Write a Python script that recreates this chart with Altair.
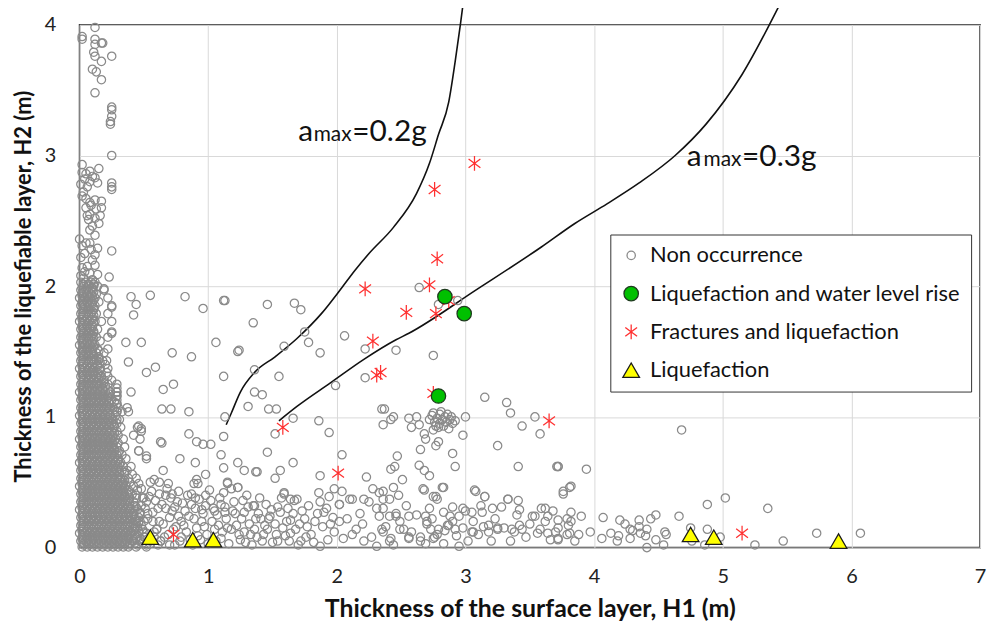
import altair as alt
import pandas as pd

# ---------------- data ----------------
TYPES = ["Non occurrence", "Liquefaction and water level rise",
         "Fractures and liquefaction", "Liquefaction"]

x_ticks = [0, 1, 2, 3, 4, 5, 6, 7]
y_ticks = [0, 1, 2, 3, 4]

# Liquefaction and water level rise (green circles)
water_rise_x = [2.84, 2.99, 2.79]
water_rise_y = [1.92, 1.79, 1.16]

# Fractures and liquefaction (red asterisks)
fractures_x = [3.07, 2.76, 2.78, 2.22, 2.72, 2.54, 2.77, 2.87, 2.28, 2.31, 2.34, 2.75,
               1.58, 2.01, 3.65, 5.15, 0.73]
fractures_y = [2.94, 2.74, 2.21, 1.98, 2.01, 1.80, 1.79, 1.89, 1.58, 1.32, 1.34, 1.18,
               0.92, 0.57, 0.97, 0.11, 0.10]

# Liquefaction (yellow triangles)
liquefaction_x = [0.55, 0.88, 1.04, 4.75, 4.93, 5.90]
liquefaction_y = [0.08, 0.06, 0.06, 0.10, 0.08, 0.05]

# Boundary curves (they run a little past the top of the frame, as in the original)
curve_02_x = [1.14, 1.18, 1.25, 1.36, 1.52, 1.69, 1.88, 2.04, 2.14, 2.25, 2.44, 2.62, 2.72, 2.79, 2.87, 2.92, 2.96, 2.98]
curve_02_y = [0.94, 1.03, 1.19, 1.34, 1.46, 1.60, 1.79, 1.99, 2.12, 2.25, 2.45, 2.71, 2.94, 3.16, 3.41, 3.72, 4.00, 4.15]
curve_03_x = [1.55, 1.69, 1.95, 2.21, 2.46, 2.56, 3.08, 3.59, 3.85, 4.10, 4.35, 4.63, 4.87, 5.15, 5.44]
curve_03_y = [0.97, 1.08, 1.26, 1.44, 1.59, 1.64, 1.97, 2.30, 2.48, 2.63, 2.79, 3.00, 3.24, 3.62, 4.15]

# Non occurrence: sparse points near the left edge, H2 > 2 m
non_occ_upper = [
    (0.12, 3.98), (0.02, 3.91), (0.02, 3.89), (0.12, 3.89), (0.17, 3.86), (0.18, 3.86),
    (0.12, 3.85), (0.11, 3.79), (0.12, 3.76), (0.25, 3.76), (0.17, 3.72), (0.10, 3.66),
    (0.13, 3.64), (0.17, 3.58), (0.12, 3.48), (0.25, 3.37), (0.25, 3.35), (0.25, 3.30),
    (0.24, 3.26), (0.24, 3.24), (0.25, 3.00), (0.02, 2.93), (0.15, 2.90), (0.02, 2.87),
    (0.05, 2.86), (0.08, 2.88), (0.10, 2.84), (0.04, 2.82), (0.12, 2.83), (0.08, 2.80),
    (0.01, 2.78), (0.14, 2.79), (0.25, 2.79), (0.25, 2.76), (0.25, 2.74), (0.06, 2.76),
    (0.03, 2.72), (0.02, 2.69), (0.05, 2.67), (0.12, 2.66), (0.08, 2.64), (0.17, 2.65),
    (0.09, 2.62), (0.17, 2.60), (0.05, 2.60), (0.13, 2.59), (0.06, 2.54), (0.08, 2.55),
    (0.16, 2.54), (0.07, 2.51), (0.12, 2.52), (0.15, 2.48), (0.10, 2.46), (0.08, 2.43),
    (0.12, 2.39), (0.00, 2.36), (0.05, 2.33), (0.08, 2.33), (0.02, 2.31), (0.14, 2.29),
    (0.25, 2.27), (0.09, 2.28), (0.12, 2.24), (0.04, 2.25), (0.01, 2.22), (0.10, 2.20),
    (0.02, 2.14), (0.06, 2.15), (0.12, 2.16), (0.04, 2.11), (0.08, 2.10), (0.23, 2.07),
    (0.01, 2.08), (0.14, 2.09), (0.03, 2.06), (0.10, 2.05),
]

# Non occurrence: dense grey core, rows of (H2, [H1 ...])
dense_rows = [
    (2.03, [0.01, 0.05, 0.09, 0.12]),
    (2.00, [0.03, 0.07, 0.11, 0.14]),
    (1.97, [0.01, 0.05, 0.10, 0.19]),
    (1.94, [0.02, 0.06, 0.09, 0.13]),
    (1.91, [0.00, 0.04, 0.08, 0.12, 0.22]),
    (1.88, [0.02, 0.06, 0.10, 0.15]),
    (1.85, [0.01, 0.04, 0.08, 0.12, 0.25]),
    (1.82, [0.03, 0.07, 0.11]),
    (1.79, [0.01, 0.05, 0.09, 0.13, 0.22]),
    (1.76, [0.02, 0.06, 0.10]),
    (1.73, [0.00, 0.04, 0.08, 0.12, 0.17, 0.25]),
    (1.70, [0.02, 0.06, 0.10]),
    (1.67, [0.01, 0.05, 0.09, 0.14]),
    (1.64, [0.03, 0.07, 0.11, 0.25]),
    (1.61, [0.01, 0.05, 0.09, 0.13, 0.22]),
    (1.58, [0.02, 0.06, 0.10, 0.16]),
    (1.55, [0.00, 0.04, 0.08, 0.12]),
    (1.52, [0.02, 0.06, 0.10, 0.14, 0.22]),
    (1.49, [0.01, 0.05, 0.09, 0.13, 0.19]),
    (1.46, [0.03, 0.07, 0.11, 0.15]),
    (1.43, [0.01, 0.05, 0.09, 0.13, 0.18, 0.21]),
    (1.40, [0.02, 0.06, 0.10, 0.14, 0.20]),
    (1.37, [0.00, 0.04, 0.08, 0.12, 0.16, 0.22]),
    (1.34, [0.02, 0.06, 0.10, 0.14, 0.21]),
    (1.31, [0.01, 0.05, 0.09, 0.13, 0.17, 0.22]),
    (1.28, [0.03, 0.07, 0.11, 0.15, 0.19, 0.25]),
    (1.25, [0.01, 0.05, 0.09, 0.13, 0.17, 0.22, 0.29]),
    (1.22, [0.02, 0.06, 0.10, 0.14, 0.18, 0.29]),
    (1.19, [0.00, 0.04, 0.08, 0.12, 0.16, 0.20, 0.24, 0.29]),
    (1.16, [0.02, 0.06, 0.10, 0.14, 0.18, 0.22, 0.29]),
    (1.13, [0.01, 0.05, 0.09, 0.13, 0.17, 0.21, 0.25, 0.29]),
    (1.10, [0.03, 0.07, 0.11, 0.15, 0.19, 0.23, 0.29]),
    (1.07, [0.01, 0.05, 0.09, 0.13, 0.17, 0.21, 0.26, 0.30, 0.37]),
    (1.04, [0.02, 0.06, 0.10, 0.14, 0.18, 0.22, 0.29, 0.33, 0.38]),
    (1.01, [0.00, 0.04, 0.08, 0.12, 0.16, 0.20, 0.24, 0.28]),
    (0.98, [0.02, 0.06, 0.10, 0.14, 0.18, 0.22, 0.26, 0.31]),
    (0.95, [0.01, 0.05, 0.09, 0.13, 0.17, 0.21, 0.25, 0.29]),
    (0.92, [0.03, 0.07, 0.11, 0.15, 0.19, 0.23, 0.27, 0.32, 0.45]),
    (0.89, [0.01, 0.05, 0.09, 0.13, 0.17, 0.21, 0.25, 0.29, 0.48]),
    (0.86, [0.02, 0.06, 0.10, 0.14, 0.18, 0.22, 0.26, 0.30, 0.42]),
    (0.83, [0.00, 0.04, 0.08, 0.12, 0.16, 0.20, 0.24, 0.28, 0.34, 0.47]),
    (0.80, [0.02, 0.06, 0.10, 0.14, 0.18, 0.22, 0.26, 0.30]),
    (0.77, [0.01, 0.05, 0.09, 0.13, 0.17, 0.21, 0.25, 0.29, 0.35]),
    (0.74, [0.03, 0.07, 0.11, 0.15, 0.19, 0.23, 0.27, 0.31, 0.46]),
    (0.71, [0.01, 0.05, 0.09, 0.13, 0.17, 0.21, 0.25, 0.29, 0.33]),
    (0.68, [0.02, 0.06, 0.10, 0.14, 0.18, 0.22, 0.26, 0.30, 0.36, 0.52]),
    (0.65, [0.00, 0.04, 0.08, 0.12, 0.16, 0.20, 0.24, 0.28, 0.32]),
    (0.62, [0.02, 0.06, 0.10, 0.14, 0.18, 0.22, 0.26, 0.30, 0.34, 0.40]),
    (0.59, [0.01, 0.05, 0.09, 0.13, 0.17, 0.21, 0.25, 0.29, 0.33, 0.37]),
    (0.56, [0.03, 0.07, 0.11, 0.15, 0.19, 0.23, 0.27, 0.31, 0.35, 0.41]),
    (0.53, [0.01, 0.05, 0.09, 0.13, 0.17, 0.21, 0.25, 0.29, 0.33, 0.38, 0.44]),
    (0.50, [0.02, 0.06, 0.10, 0.14, 0.18, 0.22, 0.26, 0.30, 0.34, 0.39, 0.55]),
    (0.47, [0.00, 0.04, 0.08, 0.12, 0.16, 0.20, 0.24, 0.28, 0.32, 0.36, 0.42]),
    (0.44, [0.02, 0.06, 0.10, 0.14, 0.18, 0.22, 0.26, 0.30, 0.34, 0.38, 0.45]),
    (0.41, [0.01, 0.05, 0.09, 0.13, 0.17, 0.21, 0.25, 0.29, 0.33, 0.37, 0.41]),
    (0.38, [0.03, 0.07, 0.11, 0.15, 0.19, 0.23, 0.27, 0.31, 0.35, 0.39, 0.44, 0.50]),
    (0.35, [0.01, 0.05, 0.09, 0.13, 0.17, 0.21, 0.25, 0.29, 0.33, 0.37, 0.42]),
    (0.32, [0.02, 0.06, 0.10, 0.14, 0.18, 0.22, 0.26, 0.30, 0.34, 0.38, 0.43, 0.48]),
    (0.29, [0.00, 0.04, 0.08, 0.12, 0.16, 0.20, 0.24, 0.28, 0.32, 0.36, 0.40, 0.45]),
    (0.26, [0.02, 0.06, 0.10, 0.14, 0.18, 0.22, 0.26, 0.30, 0.34, 0.38, 0.42, 0.47, 0.53]),
    (0.23, [0.01, 0.05, 0.09, 0.13, 0.17, 0.21, 0.25, 0.29, 0.33, 0.37, 0.41, 0.46]),
    (0.20, [0.03, 0.07, 0.11, 0.15, 0.19, 0.23, 0.27, 0.31, 0.35, 0.39, 0.44, 0.50, 0.57]),
    (0.17, [0.01, 0.05, 0.09, 0.13, 0.17, 0.21, 0.25, 0.29, 0.33, 0.37, 0.42, 0.48]),
    (0.14, [0.02, 0.06, 0.10, 0.14, 0.18, 0.22, 0.26, 0.30, 0.34, 0.38, 0.43, 0.49, 0.60]),
    (0.11, [0.00, 0.04, 0.08, 0.12, 0.16, 0.20, 0.24, 0.28, 0.32, 0.36, 0.40, 0.46, 0.52]),
    (0.08, [0.02, 0.06, 0.10, 0.14, 0.18, 0.22, 0.26, 0.30, 0.34, 0.38, 0.44, 0.50, 0.58]),
    (0.05, [0.01, 0.05, 0.09, 0.13, 0.17, 0.21, 0.25, 0.29, 0.33, 0.37, 0.41, 0.47, 0.55, 0.63]),
    (0.02, [0.03, 0.07, 0.11, 0.15, 0.19, 0.23, 0.27, 0.31, 0.35, 0.39, 0.45, 0.52, 0.61, 0.70]),
]

# Non occurrence: the same core, between the rows above
dense_rows_between = [
    (2.015, [0.03, 0.07, 0.11]), (1.985, [0.02, 0.06, 0.10]), (1.955, [0.03, 0.07, 0.11]),
    (1.925, [0.02, 0.06, 0.10]), (1.895, [0.03, 0.07, 0.11]), (1.865, [0.02, 0.06, 0.10]),
    (1.835, [0.03, 0.07, 0.11]), (1.805, [0.02, 0.06, 0.10]), (1.775, [0.03, 0.07, 0.11]),
    (1.745, [0.02, 0.06, 0.10]), (1.715, [0.03, 0.07, 0.11]), (1.685, [0.02, 0.06, 0.10]),
    (1.655, [0.03, 0.07, 0.11]), (1.625, [0.02, 0.06, 0.10]), (1.595, [0.03, 0.07, 0.11]),
    (1.565, [0.02, 0.06, 0.10]), (1.535, [0.03, 0.07, 0.11]), (1.505, [0.02, 0.06, 0.10, 0.15]),
    (1.475, [0.03, 0.07, 0.11]), (1.445, [0.02, 0.06, 0.10, 0.15]), (1.415, [0.03, 0.07, 0.11, 0.16]),
    (1.385, [0.02, 0.06, 0.10, 0.14]), (1.355, [0.03, 0.07, 0.11, 0.16]), (1.325, [0.02, 0.06, 0.10, 0.14]),
    (1.295, [0.03, 0.07, 0.11, 0.15]), (1.265, [0.02, 0.06, 0.10, 0.14, 0.19]),
    (1.235, [0.03, 0.07, 0.11, 0.15, 0.20]), (1.205, [0.02, 0.06, 0.10, 0.14, 0.18, 0.22]),
    (1.175, [0.03, 0.07, 0.11, 0.15, 0.19, 0.23]), (1.145, [0.02, 0.06, 0.10, 0.14, 0.18, 0.22]),
    (1.115, [0.03, 0.07, 0.11, 0.15, 0.19, 0.23, 0.27]), (1.085, [0.02, 0.06, 0.10, 0.14, 0.18, 0.22]),
    (1.055, [0.03, 0.07, 0.11, 0.15, 0.19, 0.23, 0.27]), (1.025, [0.02, 0.06, 0.10, 0.14, 0.18, 0.22, 0.26]),
    (0.995, [0.03, 0.07, 0.11, 0.15, 0.19, 0.23]), (0.965, [0.02, 0.06, 0.10, 0.14, 0.18, 0.22, 0.26]),
    (0.935, [0.03, 0.07, 0.11, 0.15, 0.19, 0.23, 0.27]), (0.905, [0.02, 0.06, 0.10, 0.14, 0.18, 0.22]),
    (0.875, [0.03, 0.07, 0.11, 0.15, 0.19, 0.23, 0.27]), (0.845, [0.02, 0.06, 0.10, 0.14, 0.18, 0.22, 0.26]),
    (0.815, [0.03, 0.07, 0.11, 0.15, 0.19, 0.23, 0.27]), (0.785, [0.02, 0.06, 0.10, 0.14, 0.18, 0.22, 0.26]),
    (0.755, [0.03, 0.07, 0.11, 0.15, 0.19, 0.23, 0.27]), (0.725, [0.02, 0.06, 0.10, 0.14, 0.18, 0.22, 0.26, 0.30]),
    (0.695, [0.03, 0.07, 0.11, 0.15, 0.19, 0.23, 0.27]), (0.665, [0.02, 0.06, 0.10, 0.14, 0.18, 0.22, 0.26, 0.30]),
    (0.635, [0.03, 0.07, 0.11, 0.15, 0.19, 0.23, 0.27, 0.31]),
    (0.605, [0.02, 0.06, 0.10, 0.14, 0.18, 0.22, 0.26, 0.30]),
    (0.575, [0.03, 0.07, 0.11, 0.15, 0.19, 0.23, 0.27, 0.31, 0.35]),
    (0.545, [0.02, 0.06, 0.10, 0.14, 0.18, 0.22, 0.26, 0.30]),
    (0.515, [0.03, 0.07, 0.11, 0.15, 0.19, 0.23, 0.27, 0.31, 0.35]),
    (0.485, [0.02, 0.06, 0.10, 0.14, 0.18, 0.22, 0.26, 0.30, 0.34]),
    (0.455, [0.03, 0.07, 0.11, 0.15, 0.19, 0.23, 0.27, 0.31, 0.35]),
    (0.425, [0.02, 0.06, 0.10, 0.14, 0.18, 0.22, 0.26, 0.30, 0.34, 0.38]),
    (0.395, [0.03, 0.07, 0.11, 0.15, 0.19, 0.23, 0.27, 0.31, 0.35]),
    (0.365, [0.02, 0.06, 0.10, 0.14, 0.18, 0.22, 0.26, 0.30, 0.34, 0.38]),
    (0.335, [0.03, 0.07, 0.11, 0.15, 0.19, 0.23, 0.27, 0.31, 0.35, 0.39]),
    (0.305, [0.02, 0.06, 0.10, 0.14, 0.18, 0.22, 0.26, 0.30, 0.34, 0.38]),
    (0.275, [0.03, 0.07, 0.11, 0.15, 0.19, 0.23, 0.27, 0.31, 0.35, 0.39, 0.43]),
    (0.245, [0.02, 0.06, 0.10, 0.14, 0.18, 0.22, 0.26, 0.30, 0.34, 0.38, 0.42]),
    (0.215, [0.03, 0.07, 0.11, 0.15, 0.19, 0.23, 0.27, 0.31, 0.35, 0.39, 0.43]),
    (0.185, [0.02, 0.06, 0.10, 0.14, 0.18, 0.22, 0.26, 0.30, 0.34, 0.38, 0.42, 0.46]),
    (0.155, [0.03, 0.07, 0.11, 0.15, 0.19, 0.23, 0.27, 0.31, 0.35, 0.39, 0.43]),
    (0.125, [0.02, 0.06, 0.10, 0.14, 0.18, 0.22, 0.26, 0.30, 0.34, 0.38, 0.42, 0.46]),
    (0.095, [0.03, 0.07, 0.11, 0.15, 0.19, 0.23, 0.27, 0.31, 0.35, 0.39, 0.43]),
    (0.065, [0.02, 0.06, 0.10, 0.14, 0.18, 0.22, 0.26, 0.30, 0.34, 0.38, 0.42, 0.47]),
    (0.035, [0.03, 0.07, 0.11, 0.15, 0.19, 0.23, 0.27, 0.31, 0.35, 0.39, 0.43, 0.49]),
    (0.005, [0.02, 0.06, 0.10, 0.14, 0.18, 0.22, 0.26, 0.30, 0.34, 0.38, 0.44, 0.52]),
]

# Non occurrence: scattered points, H1 0.3 - 3.7, H2 0.5 - 2
non_occ_mid = [
    (0.40, 1.92), (0.55, 1.93), (0.82, 1.92), (1.13, 1.89), (0.96, 1.83), (1.46, 1.86),
    (1.35, 1.72), (0.42, 1.78), (0.44, 1.86), (0.36, 1.57), (0.48, 1.57), (1.06, 1.57),
    (1.23, 1.50), (0.72, 1.49), (0.87, 1.46), (0.38, 1.42), (0.52, 1.34), (0.59, 1.38),
    (1.36, 1.36), (1.12, 1.31), (0.65, 1.21), (0.73, 1.25), (0.40, 1.19), (1.36, 1.19),
    (1.42, 1.17), (1.31, 1.08), (1.47, 1.06), (0.64, 1.06), (0.71, 1.06), (0.85, 1.04),
    (1.13, 1.00), (0.46, 0.93), (0.48, 0.91), (0.85, 0.87), (1.12, 0.85), (0.91, 0.81),
    (0.96, 0.79), (1.02, 0.79), (0.63, 0.81), (0.64, 0.80), (0.46, 0.74), (0.52, 0.70),
    (0.78, 0.68), (1.10, 0.71), (1.23, 0.65), (1.46, 0.73), (0.90, 0.65), (1.28, 0.59),
    (1.37, 0.58), (0.65, 0.59), (0.98, 0.56), (1.12, 0.61), (0.58, 0.52), (0.91, 0.52),
    (1.12, 1.89), (1.67, 1.87), (1.72, 1.82), (1.75, 1.65), (1.24, 1.51), (1.59, 1.54),
    (1.78, 1.57), (1.87, 1.49), (2.06, 1.62), (2.22, 1.52), (2.46, 1.51), (1.55, 1.31),
    (2.22, 1.30), (1.99, 1.24), (1.53, 1.06), (1.66, 0.99), (2.35, 1.06), (2.37, 1.06),
    (1.86, 0.97), (1.94, 0.88), (2.36, 0.94), (2.42, 0.98), (1.52, 0.87), (1.66, 0.65),
    (2.04, 0.71), (1.38, 0.58), (1.56, 0.59), (1.52, 0.53), (1.87, 0.55), (2.23, 0.54),
    (2.42, 0.60), (2.64, 1.99), (2.79, 1.86), (2.94, 1.89), (2.75, 1.47), (3.15, 1.15),
    (3.32, 1.11), (3.35, 1.03), (3.54, 1.00), (3.44, 0.93), (3.58, 0.87), (2.44, 1.00),
    (2.56, 0.99), (2.62, 1.00), (2.64, 0.94), (2.58, 0.92), (2.75, 1.03), (2.98, 0.86),
    (3.00, 1.00), (2.68, 0.87), (2.69, 0.83), (2.65, 0.75), (2.77, 0.78), (2.79, 0.81),
    (2.90, 0.72), (3.25, 0.78), (2.47, 0.70), (2.45, 0.62), (2.64, 0.63), (2.68, 0.59),
    (2.72, 0.55), (2.92, 0.62), (3.41, 0.62), (3.71, 0.62), (3.72, 0.62), (3.94, 0.60),
    (4.68, 0.90), (0.19, 1.98), (0.25, 1.84), (0.25, 1.65), (0.29, 1.19), (0.29, 1.16),
    (0.29, 1.10), (0.29, 1.04), (0.29, 0.98),
    # cluster near H1 = 2.8, H2 = 1
    (2.72, 0.98), (2.74, 1.01), (2.76, 0.96), (2.78, 0.99), (2.80, 1.02), (2.80, 0.95),
    (2.82, 0.98), (2.84, 1.00), (2.85, 0.96), (2.86, 1.02), (2.88, 0.98), (2.90, 0.95),
    (2.89, 1.00), (2.83, 0.93), (2.77, 0.93), (2.92, 0.97), (2.75, 0.90), (2.87, 0.91),
    (2.81, 1.04), (2.79, 0.92),
]

# Non occurrence: the band of thin layers, H2 < 0.5
non_occ_band = [
    (0.46, 0.49), (0.62, 0.50), (0.69, 0.49), (0.89, 0.49), (0.92, 0.49), (1.15, 0.49),
    (1.23, 0.46), (0.62, 0.41), (0.72, 0.41), (0.77, 0.43), (0.87, 0.41), (0.98, 0.40),
    (0.44, 0.40), (0.54, 0.39), (0.59, 0.36), (0.44, 0.31), (0.51, 0.30), (0.67, 0.30),
    (0.74, 0.31), (0.82, 0.28), (0.90, 0.30), (0.98, 0.32), (1.05, 0.28), (1.10, 0.33),
    (1.13, 0.27), (1.19, 0.28), (1.28, 0.27), (1.36, 0.32), (1.41, 0.22), (1.48, 0.24),
    (1.59, 0.41), (1.67, 0.36), (1.64, 0.21), (1.75, 0.22), (1.87, 0.35), (1.90, 0.27),
    (1.98, 0.45), (2.02, 0.33), (2.02, 0.20), (2.10, 0.37), (2.18, 0.26), (2.25, 0.35),
    (2.31, 0.30), (2.41, 0.37), (2.46, 0.26), (2.54, 0.32), (2.67, 0.45), (2.72, 0.30),
    (2.77, 0.39), (2.82, 0.46), (2.90, 0.31), (2.95, 0.24), (3.00, 0.28), (3.08, 0.43),
    (3.15, 0.39), (3.18, 0.17), (3.28, 0.31), (3.33, 0.37), (3.41, 0.36), (3.54, 0.24),
    (3.62, 0.30), (0.46, 0.20), (0.62, 0.20), (0.79, 0.20), (0.95, 0.20), (1.08, 0.17),
    (1.18, 0.14), (1.28, 0.12), (1.38, 0.08), (1.46, 0.14), (1.54, 0.05), (1.64, 0.11),
    (1.72, 0.05), (1.77, 0.16), (1.87, 0.01), (1.98, 0.12), (2.05, 0.07), (2.15, 0.14),
    (2.21, 0.05), (2.31, 0.01), (2.36, 0.12), (2.41, 0.05), (2.52, 0.14), (2.56, 0.08),
    (2.69, 0.03), (2.75, 0.07), (2.79, 0.14), (2.95, 0.01), (3.05, 0.12), (3.18, 0.12),
    (3.25, 0.14), (3.38, 0.12), (3.44, 0.14), (3.56, 0.11), (3.62, 0.20),
    (0.48, 0.45), (0.52, 0.35), (0.57, 0.27), (0.60, 0.14), (0.64, 0.33), (0.66, 0.08),
    (0.70, 0.23), (0.71, 0.38), (0.75, 0.16), (0.78, 0.05), (0.80, 0.34), (0.83, 0.12),
    (0.85, 0.24), (0.88, 0.02), (0.91, 0.15), (0.93, 0.37), (0.96, 0.26), (0.99, 0.10),
    (1.01, 0.44), (1.03, 0.20), (1.06, 0.05), (1.09, 0.38), (1.11, 0.12), (1.14, 0.22),
    (1.16, 0.03), (1.20, 0.35), (1.22, 0.17), (1.25, 0.06), (1.30, 0.40), (1.32, 0.18),
    (1.34, 0.02), (1.39, 0.26), (1.43, 0.10), (1.45, 0.33), (1.50, 0.04), (1.52, 0.18),
    (1.56, 0.27), (1.60, 0.09), (1.62, 0.30), (1.68, 0.14), (1.70, 0.02), (1.73, 0.28),
    (1.80, 0.10), (1.83, 0.20), (1.86, 0.42), (1.93, 0.06), (1.95, 0.18), (0.50, 0.12),
    (0.55, 0.03), (0.68, 0.45), (0.74, 0.02), (0.87, 0.33), (0.94, 0.06), (1.04, 0.30),
    (1.12, 0.42), (1.27, 0.36), (1.36, 0.14), (1.47, 0.22), (1.58, 0.15),
    (1.15, 0.50), (1.23, 0.46), (1.59, 0.42), (1.64, 0.37), (1.69, 0.37), (2.04, 0.43),
    (1.94, 0.39), (2.12, 0.37), (2.21, 0.37), (2.28, 0.45), (2.33, 0.42), (1.35, 0.32),
    (1.54, 0.31), (2.02, 0.33), (2.51, 0.52), (2.83, 0.46), (2.68, 0.44), (3.07, 0.44),
    (2.44, 0.46), (2.36, 0.43), (3.82, 0.47), (3.76, 0.43), (3.15, 0.39), (3.33, 0.37),
    (2.78, 0.37), (2.75, 0.39), (2.36, 0.37), (2.48, 0.40), (3.42, 0.29), (3.59, 0.30),
    (3.64, 0.24), (3.82, 0.27), (3.21, 0.30), (3.12, 0.32),
    (2.08, 0.22), (2.12, 0.10), (2.20, 0.18), (2.27, 0.08), (2.33, 0.24), (2.38, 0.16),
    (2.44, 0.02), (2.49, 0.20), (2.58, 0.12), (2.62, 0.25), (2.65, 0.05), (2.70, 0.18),
    (2.74, 0.22), (2.78, 0.10), (2.83, 0.03), (2.86, 0.17), (2.88, 0.24), (2.93, 0.09),
    (2.98, 0.15), (3.02, 0.05), (3.06, 0.20), (3.10, 0.10), (3.13, 0.27), (3.20, 0.05),
    (3.23, 0.22), (3.30, 0.15), (3.35, 0.05), (3.40, 0.25), (3.47, 0.08), (3.50, 0.18),
    (3.58, 0.14), (3.66, 0.06), (3.68, 0.28), (3.70, 0.12),
    (2.36, 0.30), (2.41, 0.24), (2.35, 0.14), (2.46, 0.24), (2.49, 0.14), (2.56, 0.24),
    (2.42, 0.07), (2.56, 0.07), (2.65, 0.08), (2.69, 0.24), (2.70, 0.20), (2.73, 0.14),
    (2.76, 0.08), (2.83, 0.27), (2.84, 0.13), (2.87, 0.17), (2.90, 0.20), (2.92, 0.14),
    (2.98, 0.30), (3.05, 0.27), (3.06, 0.12), (3.14, 0.16), (3.25, 0.15), (3.36, 0.14),
    (3.42, 0.17), (3.52, 0.24), (3.64, 0.11), (3.72, 0.07), (3.79, 0.22), (3.81, 0.11),
    (0.42, 0.05), (0.45, 0.15), (0.47, 0.27), (0.49, 0.38), (0.51, 0.08), (0.53, 0.22),
    (0.56, 0.43), (0.58, 0.12), (0.61, 0.30), (0.63, 0.05), (0.65, 0.18), (0.67, 0.40),
    (0.69, 0.10), (0.72, 0.28), (0.73, 0.14), (0.76, 0.35), (0.77, 0.24), (0.79, 0.08),
    (0.81, 0.17), (0.84, 0.40), (0.86, 0.06), (0.89, 0.22), (0.90, 0.38), (0.92, 0.09),
    (0.95, 0.29), (0.97, 0.16), (1.00, 0.03), (1.02, 0.36), (1.05, 0.14), (1.07, 0.25),
    (1.10, 0.07), (1.13, 0.31), (1.15, 0.15), (1.18, 0.45), (1.21, 0.26), (1.24, 0.10),
    (1.26, 0.22), (1.29, 0.04), (1.31, 0.31), (1.33, 0.10), (1.37, 0.22), (1.40, 0.38),
    (1.42, 0.05), (1.44, 0.17), (1.49, 0.29), (1.53, 0.10), (1.57, 0.38), (1.61, 0.20),
    (1.63, 0.05), (1.66, 0.26), (1.71, 0.18), (1.76, 0.08), (1.78, 0.32), (1.82, 0.04),
    (1.85, 0.26), (1.89, 0.16), (1.92, 0.30), (1.97, 0.23),
]

# Non occurrence: H1 > 3.7
non_occ_far = [
    (3.72, 0.62), (3.81, 0.46), (3.76, 0.41), (5.02, 0.38), (4.88, 0.33), (5.35, 0.30),
    (4.66, 0.24), (4.48, 0.25), (4.44, 0.22), (4.35, 0.21), (4.20, 0.21), (4.24, 0.18),
    (4.07, 0.23), (3.90, 0.24), (3.82, 0.20), (3.80, 0.17), (3.72, 0.15), (3.72, 0.21),
    (3.79, 0.10), (3.85, 0.05), (3.72, 0.06), (3.88, 0.10), (3.97, 0.12), (4.06, 0.07),
    (4.13, 0.11), (4.18, 0.05), (4.19, 0.09), (4.28, 0.14), (4.30, 0.13), (4.35, 0.16),
    (4.36, 0.11), (4.41, 0.14), (4.40, 0.09), (4.48, 0.06), (4.41, 0.00), (4.55, 0.12),
    (4.56, 0.10), (4.54, 0.02), (4.28, 0.07), (4.75, 0.15), (4.76, 0.05), (4.88, 0.14),
    (4.86, 0.02), (4.98, 0.08), (5.25, 0.02), (5.47, 0.05), (5.73, 0.11), (6.07, 0.11),
]

# Annotation labels (text, H1, H2)
anno_main = [("a", 1.70, 3.11), ("=0.2g", 2.12, 3.11), ("a", 4.72, 2.92), ("=0.3g", 5.15, 2.92)]
anno_sub = [("max", 1.82, 3.11), ("max", 4.85, 2.92)]

# ---------------- tables ----------------
pts = []
for group in (non_occ_upper, non_occ_mid, non_occ_band, non_occ_far):
    for x, y in group:
        pts.append((x, y, TYPES[0]))
for rows in (dense_rows, dense_rows_between):
    for y, xs in rows:
        for x in xs:
            pts.append((x, y, TYPES[0]))
for x, y in zip(fractures_x, fractures_y):
    pts.append((x, y, TYPES[2]))
for x, y in zip(liquefaction_x, liquefaction_y):
    pts.append((x, y, TYPES[3]))
for x, y in zip(water_rise_x, water_rise_y):
    pts.append((x, y, TYPES[1]))
points_df = pd.DataFrame(pts, columns=["h1", "h2", "type"])
points_df["idx"] = range(len(points_df))

curve_rows = []
for i, (x, y) in enumerate(zip(curve_02_x, curve_02_y)):
    curve_rows.append((x, y, "0.2g", i))
for i, (x, y) in enumerate(zip(curve_03_x, curve_03_y)):
    curve_rows.append((x, y, "0.3g", i))
curves_df = pd.DataFrame(curve_rows, columns=["h1", "h2", "curve", "ord"])

main_df = pd.DataFrame(anno_main, columns=["text", "h1", "h2"])
sub_df = pd.DataFrame(anno_sub, columns=["text", "h1", "h2"])

# ---------------- chart ----------------
FONT = "Lato"
xscale = alt.Scale(domain=[0, 7], nice=False, zero=False)
yscale = alt.Scale(domain=[0, 4], nice=False, zero=False)

x_axis = alt.Axis(values=x_ticks, format="d", title="Thickness of the surface layer, H1 (m)",
                  grid=True, gridColor="#d9d9d9", gridWidth=1, ticks=False, domain=False,
                  labelFontSize=20, labelColor="#222222", labelPadding=19, labelFlush=False,
                  titleFontSize=25, titleFontWeight="bold", titleColor="#111111", titlePadding=10)
y_axis = alt.Axis(values=y_ticks, format="d", title="Thickness of the  liquefiable layer, H2 (m)",
                  grid=True, gridColor="#d9d9d9", gridWidth=1, ticks=False, domain=False,
                  labelFontSize=20, labelColor="#222222", labelPadding=24, labelFlush=False,
                  titleFontSize=22, titleFontWeight="bold", titleColor="#111111", titlePadding=9)

X = alt.X("h1:Q", scale=xscale, axis=x_axis)
Y = alt.Y("h2:Q", scale=yscale, axis=y_axis)

legend = alt.Legend(title=None, orient="none", legendX=534, legendY=211,
                    labelFontSize=22, labelFont=FONT, labelColor="#111111", labelLimit=500,
                    labelOffset=8, strokeColor="#333333", fillColor="white", padding=10,
                    rowPadding=16.5, symbolStrokeWidth=1.3, cornerRadius=0)

asterisk = "M0,-1L0,1M-0.8,-0.6L0.8,0.6M-0.8,0.6L0.8,-0.6"

lines = alt.Chart(curves_df).mark_line(color="#111111", strokeWidth=1.6, interpolate="monotone").encode(
    x=X, y=Y, detail="curve:N", order="ord:Q")

points = alt.Chart(points_df).mark_point(filled=True, opacity=1, strokeWidth=1.25).encode(
    x=X, y=Y,
    shape=alt.Shape("type:N", scale=alt.Scale(domain=TYPES, range=["circle", "circle", asterisk, "triangle-up"]), legend=legend),
    fill=alt.Fill("type:N", scale=alt.Scale(domain=TYPES, range=["transparent", "#00c000", "transparent", "#ffff00"]), legend=legend),
    stroke=alt.Stroke("type:N", scale=alt.Scale(domain=TYPES, range=["#8a8a8a", "#1e3a1e", "#ff3030", "#1a1a1a"]), legend=legend),
    size=alt.Size("type:N", scale=alt.Scale(type="ordinal", domain=TYPES, range=[70, 210, 220, 280]), legend=legend),
    order=alt.Order("idx:Q"),
)

text_main = alt.Chart(main_df).mark_text(align="left", baseline="alphabetic", fontSize=30,
                                         font=FONT, color="#111111").encode(x=X, y=Y, text="text:N")
text_sub = alt.Chart(sub_df).mark_text(align="left", baseline="alphabetic", fontSize=21,
                                       font=FONT, color="#111111").encode(x=X, y=Y, text="text:N")

chart = alt.layer(lines, points, text_main, text_sub).properties(
    width=906, height=526,
    autosize=alt.AutoSizeParams(type="none"),
    padding={"left": 72, "top": 15, "right": 8, "bottom": 80},
).configure(font=FONT).configure_view(stroke="#3a3a3a", strokeWidth=1.6)

chart.save("out.html", embed_options={"renderer": "svg", "actions": False})
